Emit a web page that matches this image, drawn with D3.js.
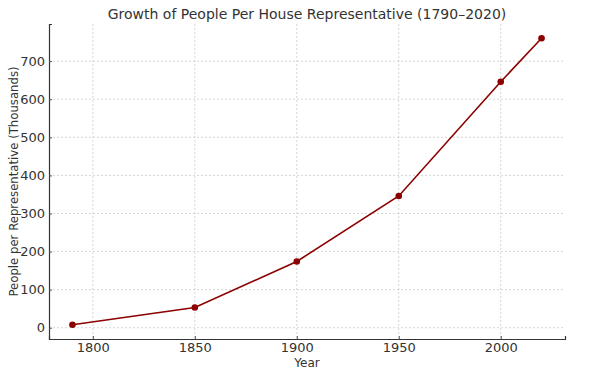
<!DOCTYPE html>
<html>
<head>
<meta charset="utf-8">
<script src="https://cdn.jsdelivr.net/npm/d3@7"></script>
<style>
    body { margin: 0; background: #fff; }
    text { font-family: "DejaVu Sans", sans-serif; fill: #333; }
</style>
</head>
<body>
<div id="chart"></div>
<script>
    // chart data
    const years = [1790, 1850, 1900, 1950, 2000, 2020];
    const peoplePerRep = [8, 53, 174, 346, 646, 760];
    const xTicks = [1800, 1850, 1900, 1950, 2000];
    const yTicks = [0, 100, 200, 300, 400, 500, 600, 700];

    const width = 596;
    const height = 372;
    const margin = { top: 24, right: 31, bottom: 33, left: 49 };

    const svg = d3.select("#chart").append("svg").attr("width", width).attr("height", height);

    // matplotlib style 5% padding around the data
    const xPad = (d3.max(years) - d3.min(years)) * 0.05;
    const yPad = (d3.max(peoplePerRep) - d3.min(peoplePerRep)) * 0.05;

    const x = d3
        .scaleLinear()
        .domain([d3.min(years) - xPad, d3.max(years) + xPad])
        .range([margin.left, width - margin.right]);
    const y = d3
        .scaleLinear()
        .domain([d3.min(peoplePerRep) - yPad, d3.max(peoplePerRep) + yPad])
        .range([height - margin.bottom, margin.top]);

    // grid lines
    const grid = svg.append("g").attr("stroke", "#cccccc").attr("stroke-width", 0.8).attr("stroke-dasharray", "2,2");
    grid.selectAll(".gx")
        .data(xTicks)
        .join("line")
        .attr("x1", (d) => x(d))
        .attr("x2", (d) => x(d))
        .attr("y1", margin.top)
        .attr("y2", height - margin.bottom);
    grid.selectAll(".gy")
        .data(yTicks)
        .join("line")
        .attr("x1", margin.left)
        .attr("x2", width - margin.right)
        .attr("y1", (d) => y(d))
        .attr("y2", (d) => y(d));

    // axes, ticks pointing inward like the reference
    const xAxis = svg
        .append("g")
        .attr("transform", `translate(0, ${height - margin.bottom})`)
        .call(d3.axisBottom(x).tickValues(xTicks).tickFormat(d3.format("d")).tickSizeOuter(0).tickSize(-3).tickPadding(4));
    const yAxis = svg
        .append("g")
        .attr("transform", `translate(${margin.left}, 0)`)
        .call(d3.axisLeft(y).tickValues(yTicks).tickSizeOuter(0).tickSize(-3).tickPadding(4));

    [xAxis, yAxis].forEach((ax) => {
        ax.attr("font-family", "DejaVu Sans").attr("font-size", 13);
        ax.select(".domain").attr("stroke", "#333").attr("stroke-width", 1.2);
        ax.selectAll(".tick line").attr("stroke", "#555");
        ax.selectAll(".tick text").attr("fill", "#333");
    });

    // line and markers
    const line = d3
        .line()
        .x((d, i) => x(years[i]))
        .y((d) => y(d));
    svg.append("path")
        .datum(peoplePerRep)
        .attr("fill", "none")
        .attr("stroke", "#8b0000")
        .attr("stroke-width", 1.6)
        .attr("d", line);
    svg.selectAll(".dot")
        .data(peoplePerRep)
        .join("circle")
        .attr("cx", (d, i) => x(years[i]))
        .attr("cy", (d) => y(d))
        .attr("r", 3.3)
        .attr("fill", "#8b0000");

    // labels
    svg.append("text")
        .attr("x", (margin.left + width - margin.right) / 2)
        .attr("y", 19)
        .attr("text-anchor", "middle")
        .attr("font-size", 14)
        .text("Growth of People Per House Representative (1790\u20132020)");
    svg.append("text")
        .attr("x", (margin.left + width - margin.right) / 2)
        .attr("y", 367)
        .attr("text-anchor", "middle")
        .attr("font-size", 12)
        .text("Year");
    svg.append("text")
        .attr("transform", `translate(17.5, ${(margin.top + height - margin.bottom) / 2}) rotate(-90)`)
        .attr("text-anchor", "middle")
        .attr("font-size", 11.7)
        .text("People per Representative (Thousands)");
</script>
</body>
</html>
